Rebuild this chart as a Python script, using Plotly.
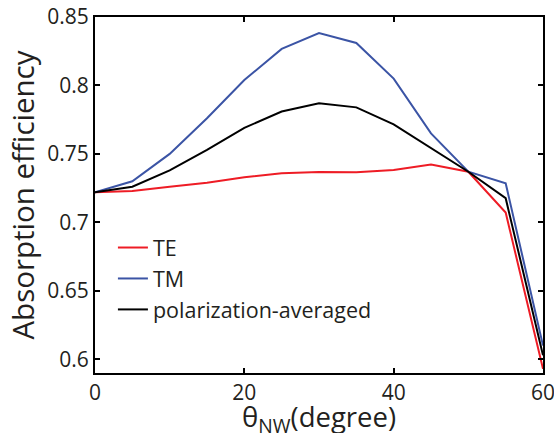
import plotly.graph_objects as go

angles = [0, 5, 10, 15, 20, 25, 30, 35, 40, 45, 50, 55, 60]
te = [0.722, 0.723, 0.726, 0.729, 0.733, 0.7358, 0.7368, 0.7366, 0.7383, 0.7422, 0.737, 0.7072, 0.593]
tm = [0.722, 0.730, 0.750, 0.776, 0.804, 0.8267, 0.8383, 0.831, 0.805, 0.765, 0.737, 0.7286, 0.610]
avg = [0.722, 0.726, 0.738, 0.753, 0.769, 0.781, 0.787, 0.784, 0.7716, 0.7546, 0.737, 0.7177, 0.603]

x_ticks = [0, 20, 40, 60]
y_ticks = [0.6, 0.65, 0.7, 0.75, 0.8, 0.85]
y_tick_text = ["0.6", "0.65", "0.7", "0.75", "0.8", "0.85"]
x_title = "θ<sub>NW</sub>(degree)"
y_title = "Absorption efficiency"

FONT = "Open Sans"
TXT = "#231f20"

fig = go.Figure()
fig.add_trace(go.Scatter(x=angles, y=te, mode="lines", name="TE",
                         line=dict(color="#ee1c25", width=2)))
fig.add_trace(go.Scatter(x=angles, y=tm, mode="lines", name="TM",
                         line=dict(color="#3b54a5", width=2)))
fig.add_trace(go.Scatter(x=angles, y=avg, mode="lines", name="polarization-averaged",
                         line=dict(color="#000000", width=2)))

axis_common = dict(showline=True, linecolor="black", linewidth=2, mirror="ticks",
                   ticks="inside", ticklen=5, tickwidth=1.5, tickcolor="black",
                   showgrid=False, zeroline=False, automargin=False,
                   ticklabeloverflow="allow",
                   tickfont=dict(family=FONT, size=21, color=TXT))

fig.update_xaxes(range=[0, 60], tickvals=x_ticks, **axis_common)
fig.update_yaxes(range=[0.59, 0.85], tickvals=y_ticks, ticktext=y_tick_text, **axis_common,
                 title=dict(text=y_title, font=dict(family=FONT, size=29.5, color=TXT),
                            standoff=4))

fig.add_annotation(text=x_title, xref="paper", yref="paper", x=0.5, y=-0.128,
                   xanchor="center", yanchor="middle", showarrow=False,
                   font=dict(family=FONT, size=27.5, color=TXT))

fig.update_layout(
    width=554, height=433,
    margin=dict(l=95, r=11, t=17, b=60),
    plot_bgcolor="white", paper_bgcolor="white",
    showlegend=True,
    legend=dict(x=0.04, y=0.41, xanchor="left", yanchor="top",
                font=dict(family=FONT, size=21.5, color=TXT),
                bgcolor="rgba(0,0,0,0)", itemwidth=30, tracegroupgap=0,
                traceorder="normal"),
)

fig.write_html("out.html", config={"displayModeBar": False},
               post_script="document.body.style.margin='0';document.body.style.padding='0';")
